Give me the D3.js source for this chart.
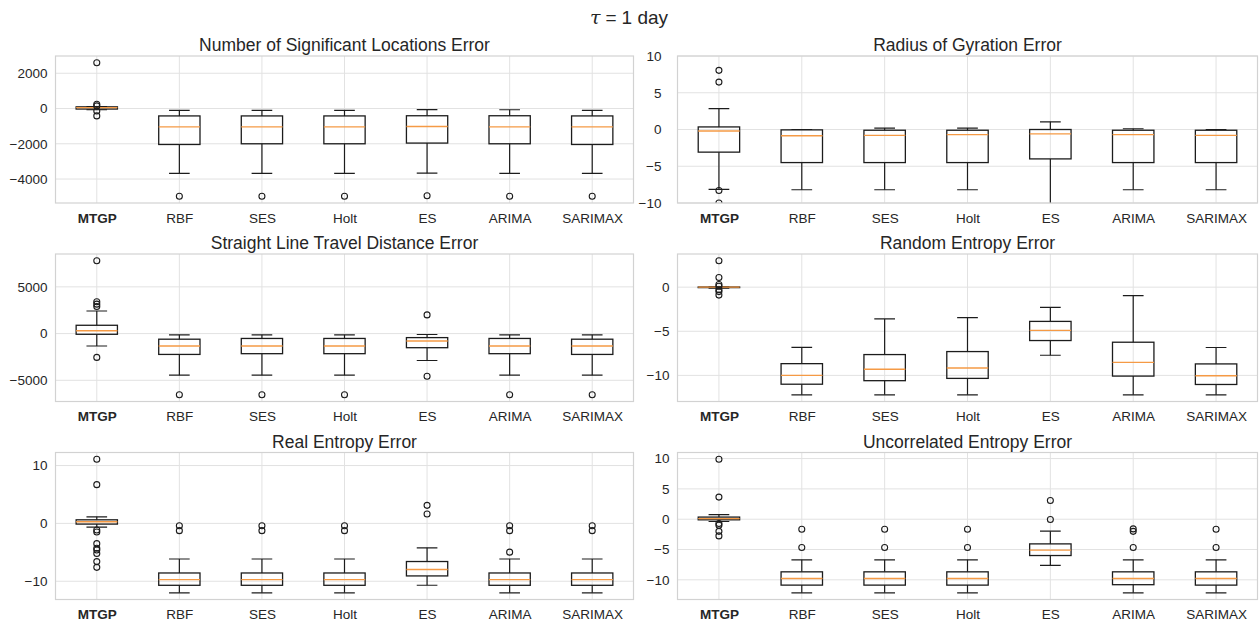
<!DOCTYPE html>
<html>
<head>
<meta charset="utf-8">
<script src="https://cdn.jsdelivr.net/npm/d3@7"></script>
<style>
  body { margin: 0; background: #fff; }
  svg { display: block; }
  text { font-family: "Liberation Sans", Arial, Helvetica, sans-serif; fill: #262626; }
</style>
</head>
<body>
<svg id="chart" width="1259" height="621"></svg>
<script>
// Forecasting models compared in every panel
const models = ["MTGP", "RBF", "SES", "Holt", "ES", "ARIMA", "SARIMAX"];

// Box statistics per model: [lower whisker, Q1, median, Q3, upper whisker]
const sigLocBoxes = [
  [-70, -30, 50, 95, 105],
  [-3680, -2040, -1040, -420, -110],
  [-3680, -2000, -1040, -420, -110],
  [-3680, -2000, -1040, -420, -110],
  [-3670, -1960, -1020, -410, -60],
  [-3680, -2000, -1040, -410, -70],
  [-3680, -2040, -1040, -420, -110]
];
const sigLocFliers = [[2600, 240, 150, -140, -420], [-4980], [-4980], [-4980], [-4950], [-4980], [-4980]];
const sigLocTicks = [2000, 0, -2000, -4000];

const gyrationBoxes = [
  [-8.15, -3.08, -0.2, 0.35, 2.85],
  [-8.2, -4.5, -0.85, -0.05, 0.0],
  [-8.2, -4.5, -0.8, -0.1, 0.2],
  [-8.2, -4.5, -0.7, -0.1, 0.2],
  [-10.5, -4.0, -0.6, 0.0, 1.05],
  [-8.2, -4.5, -0.7, -0.1, 0.1],
  [-8.2, -4.5, -0.8, -0.1, 0.0]
];
const gyrationFliers = [[8.05, 6.45, -8.3, -10.0], [], [], [], [], [], []];
const gyrationTicks = [10, 5, 0, -5, -10];
const gyrationLimits = [-10, 10];

const travelBoxes = [
  [-1330, -75, 300, 890, 2420],
  [-4450, -2230, -1330, -600, -130],
  [-4450, -2150, -1330, -520, -130],
  [-4450, -2150, -1330, -520, -130],
  [-2880, -1510, -790, -430, -100],
  [-4450, -2150, -1330, -520, -130],
  [-4450, -2230, -1330, -600, -130]
];
const travelFliers = [[7800, 3400, 3150, 2900, -2550], [-6550], [-6550], [-6550], [2000, -4570], [-6550], [-6550]];
const travelTicks = [5000, 0, -5000];

const randomEntBoxes = [
  [-0.1, -0.05, 0.0, 0.02, 0.05],
  [-12.2, -11.0, -10.0, -8.67, -6.82],
  [-12.2, -10.6, -9.3, -7.64, -3.6],
  [-12.2, -10.34, -9.16, -7.3, -3.46],
  [-7.72, -6.05, -4.9, -3.88, -2.28],
  [-12.2, -10.08, -8.52, -6.24, -0.95],
  [-12.2, -11.03, -10.04, -8.7, -6.84]
];
const randomEntFliers = [[3.0, 1.1, 0.3, 0.1, -0.3, -0.5, -0.9], [], [], [], [], [], []];
const randomEntTicks = [0, -5, -10];

const realEntBoxes = [
  [-0.64, -0.12, 0.28, 0.62, 1.14],
  [-12.0, -10.7, -9.72, -8.57, -6.15],
  [-12.0, -10.7, -9.72, -8.57, -6.15],
  [-12.0, -10.7, -9.72, -8.57, -6.15],
  [-10.69, -9.08, -7.98, -6.59, -4.22],
  [-12.0, -10.7, -9.72, -8.57, -6.15],
  [-12.0, -10.7, -9.72, -8.57, -6.15]
];
const realEntFliers = [
  [11.1, 6.7, -1.15, -1.5, -3.5, -4.3, -4.6, -5.2, -6.6, -7.6],
  [-0.4, -1.25], [-0.4, -1.25], [-0.4, -1.25], [3.12, 1.62], [-0.4, -1.25, -4.97], [-0.4, -1.25]
];
const realEntTicks = [10, 0, -10];

const uncorrEntBoxes = [
  [-0.38, -0.1, 0.1, 0.35, 0.77],
  [-12.14, -10.87, -9.78, -8.68, -6.7],
  [-12.14, -10.87, -9.78, -8.68, -6.7],
  [-12.14, -10.87, -9.78, -8.68, -6.7],
  [-7.6, -5.99, -5.1, -4.07, -1.98],
  [-12.14, -10.8, -9.78, -8.68, -6.7],
  [-12.14, -10.87, -9.78, -8.68, -6.7]
];
const uncorrEntFliers = [[9.9, 3.65, -0.7, -1.0, -2.0, -2.75], [-1.65, -4.67], [-1.65, -4.67], [-1.65, -4.67], [3.08, -0.05], [-1.6, -2.0, -4.67], [-1.65, -4.67]];
const uncorrEntTicks = [10, 5, 0, -5, -10];

const panels = [
  { title: "Number of Significant Locations Error", boxes: sigLocBoxes, fliers: sigLocFliers, ticks: sigLocTicks, row: 0, col: 0 },
  { title: "Radius of Gyration Error", boxes: gyrationBoxes, fliers: gyrationFliers, ticks: gyrationTicks, limits: gyrationLimits, row: 0, col: 1, pad: 16 },
  { title: "Straight Line Travel Distance Error", boxes: travelBoxes, fliers: travelFliers, ticks: travelTicks, row: 1, col: 0 },
  { title: "Random Entropy Error", boxes: randomEntBoxes, fliers: randomEntFliers, ticks: randomEntTicks, row: 1, col: 1 },
  { title: "Real Entropy Error", boxes: realEntBoxes, fliers: realEntFliers, ticks: realEntTicks, row: 2, col: 0 },
  { title: "Uncorrelated Entropy Error", boxes: uncorrEntBoxes, fliers: uncorrEntFliers, ticks: uncorrEntTicks, row: 2, col: 1 }
];

// Plot-area geometry of the 3 x 2 grid
const colX = [[55.5, 633.5], [677.5, 1257.5]];
const rowY = [[56, 203], [254, 401.5], [452.5, 599.5]];

const svg = d3.select("#chart");
const minus = s => String(s).replace("-", "\u2212");
const ink = "#1c1c1c";

// Figure title: τ = 1 day
const sup = svg.append("text")
  .attr("x", 629).attr("y", 24)
  .attr("text-anchor", "middle")
  .style("font-size", "19px");
sup.append("tspan").style("font-style", "italic").style("font-family", "'DejaVu Serif', serif").text("\u03c4");
sup.append("tspan").attr("dx", 5).text("=");
sup.append("tspan").attr("dx", 5).text("1 day");

panels.forEach((p, pi) => {
  const [x0, x1] = colX[p.col];
  const [y0, y1] = rowY[p.row];

  const x = d3.scalePoint().domain(models).range([x0, x1]).padding(0.5);
  const step = x.step();

  let domain = p.limits;
  if (!domain) {
    const all = p.boxes.flat().concat(p.fliers.flat());
    const lo = d3.min(all), hi = d3.max(all), m = (hi - lo) * 0.05;
    domain = [lo - m, hi + m];
  }
  const y = d3.scaleLinear().domain(domain).range([y1, y0]);

  const g = svg.append("g");

  // background grid
  g.append("g").selectAll("line").data(p.ticks).join("line")
    .attr("x1", x0).attr("x2", x1)
    .attr("y1", d => y(d)).attr("y2", d => y(d))
    .attr("stroke", "#e2e2e2").attr("stroke-width", 1);
  g.append("g").selectAll("line").data(models).join("line")
    .attr("x1", d => x(d)).attr("x2", d => x(d))
    .attr("y1", y0).attr("y2", y1)
    .attr("stroke", "#e2e2e2").attr("stroke-width", 1);

  // axis labels
  const yAxis = d3.axisLeft(y).tickValues(p.ticks).tickSize(0).tickPadding(p.pad || 8).tickFormat(minus);
  const ya = g.append("g").attr("transform", `translate(${x0},0)`).call(yAxis);
  ya.select(".domain").remove();
  ya.selectAll("text").style("font-size", "13.5px").style("fill", "#262626");

  const xAxis = d3.axisBottom(x).tickSize(0).tickPadding(10);
  const xa = g.append("g").attr("transform", `translate(0,${y1})`).call(xAxis);
  xa.select(".domain").remove();
  xa.selectAll("text").style("font-size", "13.5px").style("fill", "#262626")
    .style("font-weight", d => d === "MTGP" ? "bold" : "normal");

  // clipped data layer
  const clipId = "clip" + pi;
  svg.append("clipPath").attr("id", clipId)
    .append("rect").attr("x", x0).attr("y", y0).attr("width", x1 - x0).attr("height", y1 - y0);
  const data = g.append("g").attr("clip-path", `url(#${clipId})`);

  const bw = step * 0.5, cw = step * 0.25;
  const items = data.selectAll("g").data(models.map((m, i) => ({ m, s: p.boxes[i], f: p.fliers[i] }))).join("g");

  // whiskers and caps
  items.append("line")
    .attr("x1", d => x(d.m)).attr("x2", d => x(d.m))
    .attr("y1", d => y(d.s[0])).attr("y2", d => y(d.s[1]))
    .attr("stroke", ink).attr("stroke-width", 1.2);
  items.append("line")
    .attr("x1", d => x(d.m)).attr("x2", d => x(d.m))
    .attr("y1", d => y(d.s[3])).attr("y2", d => y(d.s[4]))
    .attr("stroke", ink).attr("stroke-width", 1.2);
  [0, 4].forEach(k => {
    items.append("line")
      .attr("x1", d => x(d.m) - cw / 2).attr("x2", d => x(d.m) + cw / 2)
      .attr("y1", d => y(d.s[k])).attr("y2", d => y(d.s[k]))
      .attr("stroke", ink).attr("stroke-width", 1.2);
  });

  // box
  items.append("rect")
    .attr("x", d => x(d.m) - bw / 2).attr("width", bw)
    .attr("y", d => y(d.s[3])).attr("height", d => Math.max(0.5, y(d.s[1]) - y(d.s[3])))
    .attr("fill", "none").attr("stroke", ink).attr("stroke-width", 1.3);

  // median
  items.append("line")
    .attr("x1", d => x(d.m) - bw / 2).attr("x2", d => x(d.m) + bw / 2)
    .attr("y1", d => y(d.s[2])).attr("y2", d => y(d.s[2]))
    .attr("stroke", "#f59a45").attr("stroke-width", 1.4);

  // outliers
  items.selectAll("circle").data(d => d.f.map(v => ({ m: d.m, v }))).join("circle")
    .attr("cx", d => x(d.m)).attr("cy", d => y(d.v)).attr("r", 3)
    .attr("fill", "none").attr("stroke", ink).attr("stroke-width", 1.1);

  // frame
  g.append("rect").attr("x", x0).attr("y", y0).attr("width", x1 - x0).attr("height", y1 - y0)
    .attr("fill", "none").attr("stroke", "#d2d2d2").attr("stroke-width", 1.2);

  // panel title
  g.append("text")
    .attr("x", (x0 + x1) / 2).attr("y", y0 - 5)
    .attr("text-anchor", "middle")
    .style("font-size", "17.5px")
    .text(p.title);
});
</script>
</body>
</html>
